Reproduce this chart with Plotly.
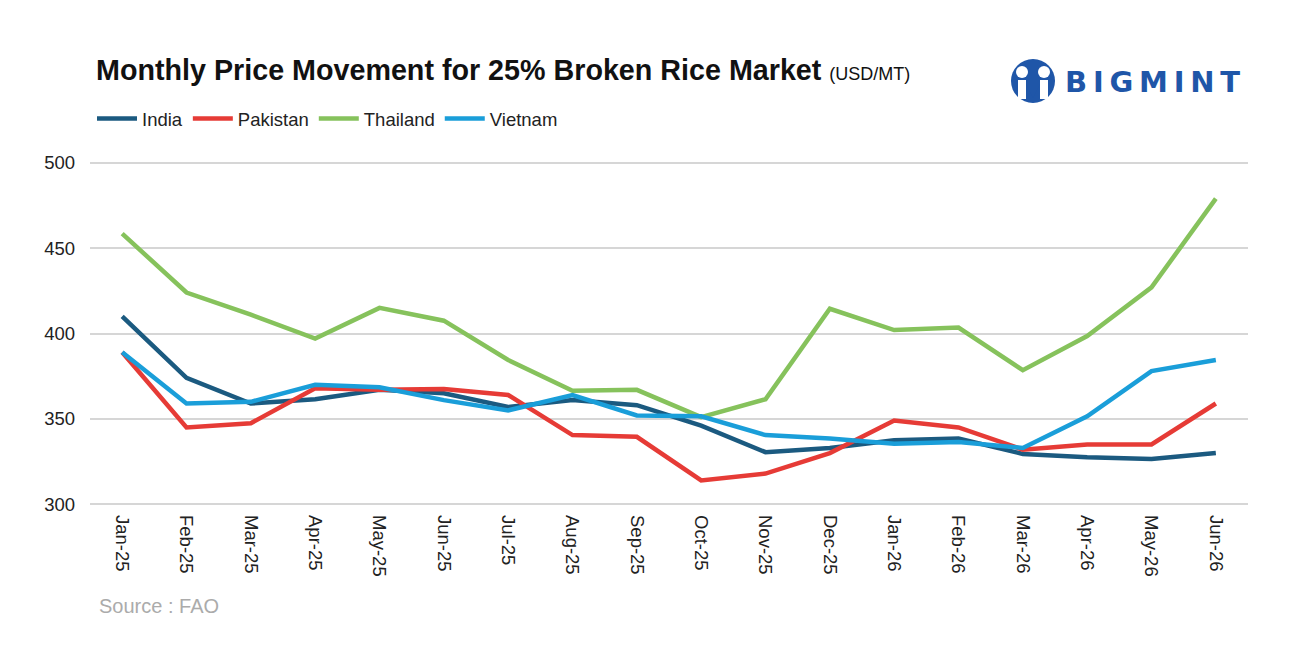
import plotly.graph_objects as go

months = ["Jan-25", "Feb-25", "Mar-25", "Apr-25", "May-25", "Jun-25", "Jul-25", "Aug-25",
          "Sep-25", "Oct-25", "Nov-25", "Dec-25", "Jan-26", "Feb-26", "Mar-26", "Apr-26",
          "May-26", "Jun-26"]
india = [410, 374, 359, 361.5, 367, 365, 357, 361, 358, 346, 330.5, 333, 337.5, 338.5, 329.5, 327.5, 326.5, 330]
pakistan = [389, 345, 347.5, 368, 367, 367.5, 364, 340.5, 339.5, 314, 318, 330, 349, 345, 332, 335, 335, 359]
thailand = [458.5, 424, 411, 397, 415, 407.5, 384.5, 366.5, 367, 351, 361.5, 414.5, 402, 403.5, 378.5, 398.5, 427, 479]
vietnam = [389, 359, 360, 370, 368.5, 361, 355, 364, 352, 351.5, 340.5, 338.5, 335.5, 336.5, 333, 351.5, 378, 384.5]
y_ticks = [300, 350, 400, 450, 500]

series = [
    ("India", india, "#1b5a80"),
    ("Pakistan", pakistan, "#e63b36"),
    ("Thailand", thailand, "#86c25c"),
    ("Vietnam", vietnam, "#1a9ed9"),
]

W, H = 1300, 650
L, R, T, B = 90, 52, 161, 144
pw = W - L - R
ph = H - T - B


def px(xp):
    return (xp - L) / pw


def py(yp):
    return (H - B - yp) / ph


fig = go.Figure()
for name, vals, col in series:
    fig.add_trace(go.Scatter(x=months, y=vals, name=name, mode="lines",
                             line=dict(color=col, width=4.5)))

font_family = "Liberation Sans, Arial, sans-serif"

fig.update_layout(
    width=W, height=H,
    margin=dict(l=L, r=R, t=T, b=B),
    paper_bgcolor="white", plot_bgcolor="white",
    font=dict(family=font_family, color="#222", size=16),
    showlegend=True,
    legend=dict(orientation="h", x=92 / W, xref="container", xanchor="left",
                y=1 - 119 / H, yref="container", yanchor="middle",
                font=dict(size=18.5, color="#222", family=font_family),
                itemwidth=40, traceorder="normal", bgcolor="rgba(0,0,0,0)"),
    xaxis=dict(type="category", range=[-0.5, 17.5], tickangle=90,
               showgrid=False, showline=False, ticks="", zeroline=False,
               ticklabelstandoff=8,
               tickfont=dict(size=18.5, color="#222")),
    yaxis=dict(range=[299, 501], tickvals=y_ticks,
               showgrid=True, gridcolor="#d6d6d6", gridwidth=2, zeroline=False,
               showline=False, ticks="", ticklabelstandoff=14,
               tickfont=dict(size=18.5, color="#222")),
)

fig.add_annotation(
    x=px(94), y=py(70), xref="paper", yref="paper", showarrow=False,
    xanchor="left", yanchor="middle",
    text="<b>Monthly Price Movement for 25% Broken Rice Market</b> <span style='font-size:18px'>(USD/MT)</span>",
    font=dict(size=28.7, color="#111", family=font_family),
)

fig.add_annotation(
    x=px(97), y=py(606), xref="paper", yref="paper", showarrow=False,
    xanchor="left", yanchor="middle",
    text="Source : FAO", font=dict(size=20, color="#ababab", family=font_family),
)

# Logo: BIGMINT
logo_blue = "#1f56a8"
fig.add_annotation(
    x=px(1063), y=py(82), xref="paper", yref="paper", showarrow=False,
    xanchor="left", yanchor="middle",
    text="<b>B\u2009I\u2009G\u2009M\u2009I\u2009N\u2009T</b>",
    font=dict(size=29, color=logo_blue, family="DejaVu Sans"),
)
fig.add_shape(type="circle", xref="paper", yref="paper",
              x0=px(1011), x1=px(1055), y0=py(103), y1=py(59),
              fillcolor=logo_blue, line=dict(width=0))
for cx in (1022, 1044):
    fig.add_shape(type="circle", xref="paper", yref="paper",
                  x0=px(cx - 6), x1=px(cx + 6), y0=py(78), y1=py(66),
                  fillcolor="white", line=dict(width=0))
    fig.add_shape(type="rect", xref="paper", yref="paper",
                  x0=px(cx - 4), x1=px(cx + 4), y0=py(99), y1=py(80),
                  fillcolor="white", line=dict(width=0))
fig.add_shape(type="path", xref="paper", yref="paper",
              path=f"M {px(1026)},{py(84)} L {px(1033)},{py(98)} L {px(1040)},{py(84)} Z",
              fillcolor=logo_blue, line=dict(width=0))

fig.write_html("out.html")
